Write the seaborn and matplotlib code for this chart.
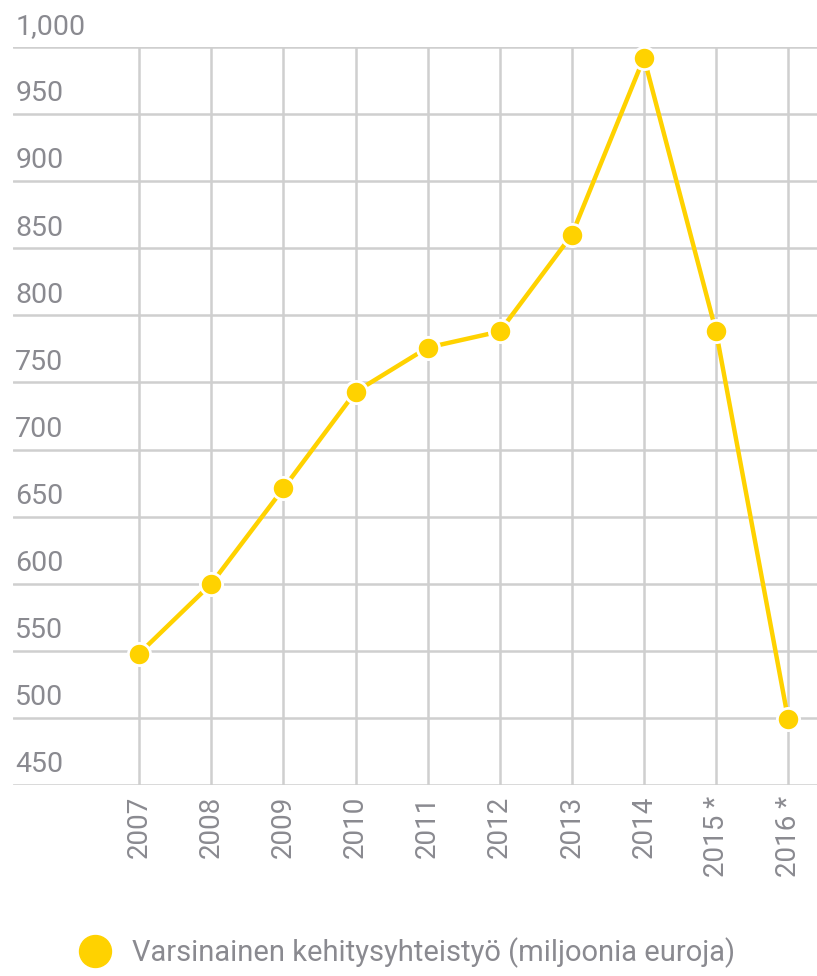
import matplotlib
matplotlib.use("Agg")
import matplotlib.pyplot as plt
from matplotlib.lines import Line2D
import seaborn as sns
import pandas as pd

# data
years = ["2007", "2008", "2009", "2010", "2011", "2012", "2013", "2014", "2015 *", "2016 *"]
values = [548, 600, 671, 743, 776, 788, 860, 992, 788, 499]
y_ticks = [450, 500, 550, 600, 650, 700, 750, 800, 850, 900, 950, 1000]
series_label = "Varsinainen kehitysyhteistyö (miljoonia euroja)"

yellow = "#FFD200"
grid_col = "#cfcfcf"
text_col = "#8a8a90"

sns.set_theme(style="white")
plt.rcParams["font.family"] = ["Roboto", "DejaVu Sans"]

df = pd.DataFrame({"pos": range(len(years)), "value": values})

fig = plt.figure(figsize=(8.17, 9.76), dpi=100)
ax = fig.add_axes([13 / 817, 1 - 785 / 976, 1 - 13 / 817, (785 - 47) / 976])

sns.lineplot(data=df, x="pos", y="value", ax=ax, color=yellow, lw=3.2, sort=False,
             marker="o", markersize=16, markerfacecolor=yellow,
             markeredgecolor="white", markeredgewidth=2, zorder=5)

ax.set_xlim(-1.75, 9.4)
ax.set_ylim(450, 1000)

# gridlines
for y in y_ticks:
    ax.axhline(y, color=grid_col, lw=1.8, zorder=1)
for i in range(len(years)):
    ax.axvline(i, color=grid_col, lw=1.8, zorder=1)

for s in ax.spines.values():
    s.set_visible(False)

ax.set_yticks([])
ax.set_xticks(range(len(years)))
ax.set_xticklabels(years, rotation=90, fontsize=20, color=text_col, va="top")
ax.tick_params(axis="x", length=0, pad=8)
ax.set_xlabel("")
ax.set_ylabel("")

# y labels sit above each gridline, left aligned
for y in y_ticks:
    ax.text(-1.72, y + 5, f"{y:,}", fontsize=20.5, color=text_col,
            ha="left", va="bottom", zorder=3)

handle = Line2D([], [], marker="o", color="none", markerfacecolor=yellow,
                markeredgecolor=yellow, markersize=23)
fig.legend([handle], [series_label], loc="center left",
           bbox_to_anchor=(72 / 817, 1 - 953 / 976), frameon=False,
           fontsize=21, labelcolor=text_col, handletextpad=0.45,
           handlelength=1.6, borderaxespad=0, borderpad=0)

fig.savefig("out.png", dpi=100)
